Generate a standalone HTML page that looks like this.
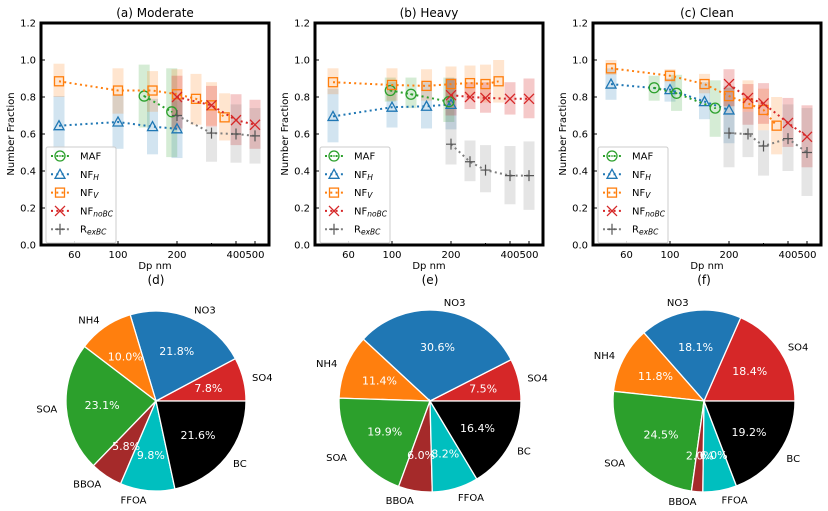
<!DOCTYPE html>
<html><head><meta charset="utf-8"><style>
body{margin:0;background:#fff;}
svg{display:block;font-family:"DejaVu Sans","Liberation Sans",sans-serif;}
</style></head><body>
<svg id="fig" width="828" height="511" viewBox="0 0 828 511"></svg>
<script>
// ---------- data: panel (a) Moderate ----------
const a_dpV=[50,100,150,200,250,300,350];
const a_V=[0.885,0.835,0.835,0.815,0.79,0.755,0.69];
const a_Vlo=[0.80,0.71,0.72,0.70,0.65,0.645,0.565];
const a_Vhi=[0.98,0.955,0.94,0.95,0.925,0.88,0.82];
const a_dpH=[50,100,150,200];
const a_H=[0.645,0.665,0.64,0.628];
const a_Hlo=[0.49,0.52,0.49,0.47];
const a_Hhi=[0.805,0.81,0.79,0.79];
const a_dpM=[136,188];
const a_M=[0.805,0.72];
const a_Mlo=[0.635,0.475];
const a_Mhi=[0.975,0.955];
const a_dpN=[200,300,400,500];
const a_N=[0.80,0.755,0.675,0.65];
const a_Nlo=[0.63,0.64,0.54,0.52];
const a_Nhi=[0.915,0.86,0.815,0.785];
const a_dpR=[200,300,400,500];
const a_R=[0.70,0.605,0.60,0.59];
const a_Rlo=[0.62,0.45,0.445,0.44];
const a_Rhi=[0.78,0.64,0.76,0.74];
// ---------- data: panel (b) Heavy ----------
const b_dpV=[50,100,150,200,250,300,350];
const b_V=[0.88,0.865,0.86,0.87,0.875,0.87,0.885];
const b_Vlo=[0.815,0.78,0.78,0.80,0.81,0.77,0.77];
const b_Vhi=[0.955,0.955,0.95,0.965,0.97,0.975,1.0];
const b_dpH=[50,100,150,200];
const b_H=[0.695,0.745,0.75,0.76];
const b_Hlo=[0.555,0.635,0.63,0.625];
const b_Hhi=[0.845,0.88,0.88,0.90];
const b_dpM=[98,125,195];
const b_M=[0.835,0.815,0.775];
const b_Mlo=[0.775,0.74,0.665];
const b_Mhi=[0.905,0.905,0.905];
const b_dpN=[200,250,300,400,500];
const b_N=[0.81,0.80,0.795,0.79,0.79];
const b_Nlo=[0.70,0.735,0.715,0.705,0.685];
const b_Nhi=[0.90,0.88,0.88,0.88,0.90];
const b_dpR=[200,250,300,400,500];
const b_R=[0.545,0.45,0.405,0.375,0.375];
const b_Rlo=[0.435,0.345,0.285,0.22,0.19];
const b_Rhi=[0.90,0.565,0.54,0.535,0.56];
// ---------- data: panel (c) Clean ----------
const c_dpV=[50,100,150,200,250,300,350];
const c_V=[0.955,0.915,0.87,0.805,0.765,0.73,0.645];
const c_Vlo=[0.92,0.88,0.82,0.75,0.72,0.62,0.49];
const c_Vhi=[1.0,0.95,0.925,0.85,0.89,0.845,0.80];
const c_dpH=[50,100,150,200];
const c_H=[0.87,0.84,0.775,0.73];
const c_Hlo=[0.785,0.775,0.68,0.55];
const c_Hhi=[0.955,0.90,0.88,0.85];
const c_dpM=[83,108,170];
const c_M=[0.85,0.82,0.74];
const c_Mlo=[0.78,0.725,0.585];
const c_Mhi=[0.915,0.92,0.89];
const c_dpN=[200,250,300,400,500];
const c_N=[0.87,0.795,0.765,0.66,0.585];
const c_Nlo=[0.75,0.65,0.655,0.53,0.42];
const c_Nhi=[0.95,0.87,0.875,0.795,0.755];
const c_dpR=[200,250,300,400,500];
const c_R=[0.605,0.60,0.535,0.575,0.50];
const c_Rlo=[0.42,0.475,0.375,0.40,0.265];
const c_Rhi=[0.86,0.72,0.62,0.76,0.74];
// ---------- ticks ----------
const yTicks=[0.0,0.2,0.4,0.6,0.8,1.0,1.2];
const xTicks=[60,100,200,400,500];
const xMinor=[50,70,80,90,300];
// ---------- pie data ----------
const pieLabels=["SO4","NO3","NH4","SOA","BBOA","FFOA","BC"];
const pieD=[7.8,21.8,10.0,23.1,5.8,9.8,21.6];
const pieE=[7.5,30.6,11.4,19.9,6.0,8.2,16.4];
const pieF=[18.4,18.1,11.8,24.5,2.0,6.0,19.2];

const NS="http://www.w3.org/2000/svg";
const svg=document.getElementById('fig');
function mk(tag,attrs,parent,text){const e=document.createElementNS(NS,tag);for(const k in attrs)e.setAttribute(k,attrs[k]);if(text!==undefined)e.textContent=text;(parent||svg).appendChild(e);return e;}

const COL={M:'#2ca02c',H:'#1f77b4',V:'#ff7f0e',N:'#d62728',R:'#555555',Rbar:'#7f7f7f'};
function marker(g,type,x,y,col){
  if(type==='M'){mk('circle',{cx:x,cy:y,r:5,fill:'none',stroke:col,'stroke-width':1.3},g);mk('circle',{cx:x,cy:y,r:0.9,fill:col},g);}
  else if(type==='H'){mk('path',{d:`M${x},${y-5}L${x+5},${y+4}L${x-5},${y+4}Z`,fill:'none',stroke:col,'stroke-width':1.3},g);}
  else if(type==='V'){mk('rect',{x:x-4.5,y:y-4.5,width:9,height:9,fill:'none',stroke:col,'stroke-width':1.3},g);}
  else if(type==='N'){mk('path',{d:`M${x-5},${y-5}L${x+5},${y+5}M${x-5},${y+5}L${x+5},${y-5}`,stroke:col,'stroke-width':1.3},g);}
  else {mk('path',{d:`M${x-5},${y}L${x+5},${y}M${x},${y-5.5}L${x},${y+5.5}`,stroke:col,'stroke-width':1.2},g);}
}

function panel(L,title,name,series){
  const W=228,T=23,B=245;
  const xs=d=>L+77+196*Math.log10(d/100);
  const ys=v=>B-v*(B-T)/1.2;
  const g=mk('g',{},svg);
  
  
  mk('text',{x:L+W/2,y:17,'text-anchor':'middle','font-size':12,fill:'#000',},g,title);
  const order=['H','M','V','N','R'];
  for(const s of order){const S=series[s];
    S.dp.forEach((d,i)=>{
      const r=mk('rect',{x:xs(d)-5.5,y:ys(S.hi[i]),width:11,height:ys(S.lo[i])-ys(S.hi[i]),fill:s==='R'?COL.Rbar:COL[s],'fill-opacity':s==='N'?0.25:0.2},g);
      
      
    });}
  for(const s of order){const S=series[s];
    const pts=S.dp.map((d,i)=>xs(d).toFixed(1)+','+ys(S.v[i]).toFixed(1)).join(' ');
    const pl=mk('polyline',{points:pts,fill:'none',stroke:s==='R'?'#7f7f7f':COL[s],'stroke-width':2,'stroke-dasharray':'2,3.3'},g);
    
    
    S.dp.forEach((d,i)=>marker(g,s,xs(d),ys(S.v[i]),s==='R'?COL.R:COL[s]));
  }
  mk('rect',{x:L,y:T,width:W,height:B-T,fill:'none',stroke:'#000','stroke-width':3,},g);
  yTicks.forEach(t=>{const y=ys(t);mk('line',{x1:L,x2:L+4,y1:y,y2:y,stroke:'#000'},g);
    mk('text',{x:L-5,y:y+3.5,'text-anchor':'end','font-size':10,fill:'#000',},g,t.toFixed(1));});
  xTicks.forEach(t=>{const x=xs(t);mk('line',{x1:x,x2:x,y1:B,y2:B-4,stroke:'#000'},g);
    mk('text',{x:x,y:B+13,'text-anchor':'middle','font-size':10,fill:'#000',},g,String(t));});
  xMinor.forEach(t=>{const x=xs(t);mk('line',{x1:x,x2:x,y1:B,y2:B-2,stroke:'#000'},g);});
  mk('text',{x:L+W/2,y:B+24,'text-anchor':'middle','font-size':10,fill:'#000',},g,'Dp nm');
  mk('text',{x:L-27,y:(T+B)/2,'text-anchor':'middle','font-size':10,fill:'#000',transform:`rotate(-90 ${L-27} ${(T+B)/2})`,},g,'Number Fraction');
  const lg=mk('g',{},g);
  
  
  mk('rect',{x:L+5,y:147,width:70,height:96,rx:2,fill:'#fff','fill-opacity':0.85,stroke:'#ccc'},lg);
  const labs=[['M','MAF',''],['H','NF','H'],['V','NF','V'],['N','NF','noBC'],['R','R','exBC']];
  labs.forEach((e,i)=>{const y=156+i*18.3;
    const c=e[0]==='R'?'#7f7f7f':COL[e[0]];
    mk('line',{x1:L+10,x2:L+29,y1:y,y2:y,stroke:c,'stroke-width':2,'stroke-dasharray':'2,3.3'},lg);
    marker(lg,e[0],L+19,y,e[0]==='R'?COL.R:COL[e[0]]);
    const t=mk('text',{x:L+39,y:y+3.5,'font-size':10,fill:'#000',},lg,e[1]);
    if(e[2]){mk('tspan',{'font-size':7.5,'font-style':'italic',dy:2},t,e[2]);}
  });
}
panel(41,'(a) Moderate','panel-moderate',{M:{dp:a_dpM,v:a_M,lo:a_Mlo,hi:a_Mhi},H:{dp:a_dpH,v:a_H,lo:a_Hlo,hi:a_Hhi},V:{dp:a_dpV,v:a_V,lo:a_Vlo,hi:a_Vhi},N:{dp:a_dpN,v:a_N,lo:a_Nlo,hi:a_Nhi},R:{dp:a_dpR,v:a_R,lo:a_Rlo,hi:a_Rhi}});
panel(315,'(b) Heavy','panel-heavy',{M:{dp:b_dpM,v:b_M,lo:b_Mlo,hi:b_Mhi},H:{dp:b_dpH,v:b_H,lo:b_Hlo,hi:b_Hhi},V:{dp:b_dpV,v:b_V,lo:b_Vlo,hi:b_Vhi},N:{dp:b_dpN,v:b_N,lo:b_Nlo,hi:b_Nhi},R:{dp:b_dpR,v:b_R,lo:b_Rlo,hi:b_Rhi}});
panel(593,'(c) Clean','panel-clean',{M:{dp:c_dpM,v:c_M,lo:c_Mlo,hi:c_Mhi},H:{dp:c_dpH,v:c_H,lo:c_Hlo,hi:c_Hhi},V:{dp:c_dpV,v:c_V,lo:c_Vlo,hi:c_Vhi},N:{dp:c_dpN,v:c_N,lo:c_Nlo,hi:c_Nhi},R:{dp:c_dpR,v:c_R,lo:c_Rlo,hi:c_Rhi}});

const pieCols=['#d62728','#1f77b4','#ff7f0e','#2ca02c','#a52a2a','#00bfbf','#000000'];
function pie(cx,cy,r,vals,title,name){
  const g=mk('g',{},svg);
  
  
  mk('text',{x:cx,y:284,'text-anchor':'middle','font-size':12,fill:'#000',},g,title);
  const tot=vals.reduce((a,b)=>a+b,0);
  let a0=0;
  vals.forEach((v,i)=>{
    const a1=a0+v/tot*2*Math.PI, am=(a0+a1)/2;
    const x0=cx+r*Math.cos(a0),y0=cy-r*Math.sin(a0),x1=cx+r*Math.cos(a1),y1=cy-r*Math.sin(a1);
    const p=mk('path',{d:`M${cx},${cy}L${x0},${y0}A${r},${r} 0 ${a1-a0>Math.PI?1:0} 0 ${x1},${y1}Z`,fill:pieCols[i],stroke:'#fff','stroke-width':1.3},g);
    
    
    const lx=cx+1.1*r*Math.cos(am),ly=cy-1.1*r*Math.sin(am);
    mk('text',{x:lx,y:ly+4,'text-anchor':Math.cos(am)>=0?'start':'end','font-size':10,fill:'#000',},g,pieLabels[i]);
    a0=a1;
  });
  a0=0;
  vals.forEach((v,i)=>{
    const a1=a0+v/tot*2*Math.PI, am=(a0+a1)/2;
    mk('text',{x:cx+0.6*r*Math.cos(am),y:cy-0.6*r*Math.sin(am)+4,'text-anchor':'middle','font-size':11,fill:'#fff',},g,v.toFixed(1)+'%');
    a0=a1;
  });
}
pie(156,401,90,pieD,'(d)','pie-moderate');
pie(430,401,91,pieE,'(e)','pie-heavy');
pie(704,401,91,pieF,'(f)','pie-clean');
</script>
</body></html>
